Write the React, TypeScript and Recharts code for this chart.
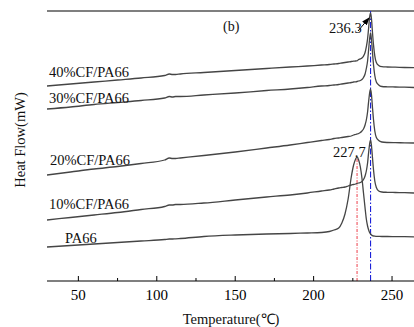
import React from "react";
import { LineChart, Line, XAxis, YAxis, ReferenceLine } from "recharts";

// temperature grid (°C), denser round the melting peaks
const temps = [
  30, 45, 60, 75, 90, 105, 108, 110, 112, 115, 130, 150, 170, 185, 196, 205,
  210, 213, 216, 218, 220, 222, 224, 225.5, 226.8, 227.7, 228.7, 229.8, 230.8,
  231.8, 232.8, 233.6, 234.4, 235.1, 235.7, 236.3, 236.9, 237.5, 238.2, 239,
  240, 241.5, 243.5, 247, 252, 258, 264,
];

// heat flow, arbitrary offset units (curves are stacked)
const pa66 = [
  34, 35.5, 37, 38.5, 40, 41.5, 42, 42, 42.2, 42.5, 44.5, 46, 47, 47.5, 48,
  48.5, 49.5, 51, 53, 58, 67, 82, 104, 116, 122, 124, 121, 114, 103, 88, 73,
  62, 55, 51, 48.5, 47, 46, 45.3, 45, 44.8, 44.7, 44.6, 44.5, 44.5, 44.4, 44.3,
  44.2,
];
const cf10 = [
  61, 63.5, 66, 68.5, 71.5, 74.5, 76, 76, 76.5, 76.5, 78, 81, 84, 86, 88, 90,
  91, 92, 93, 93.5, 94, 95, 96, 96.5, 97, 97.5, 98, 98.5, 99.5, 101.5, 105, 110,
  118, 129, 137, 141, 135, 124, 111, 100, 93.5, 90, 89, 88.7, 88.5, 88.3, 88,
];
const cf20 = [
  106, 109, 112, 114.5, 117.5, 121, 123, 122.5, 122.5, 123, 125.5, 129, 133, 136,
  138.5, 140.5, 141.5, 142.5, 143, 143.5, 144, 144.5, 145, 146, 146.5, 147,
  147.5, 148.5, 150, 152, 156, 161, 169, 180, 188, 192, 186, 174, 161, 150,
  143.5, 140.5, 139, 138.5, 138.3, 138.2, 138,
];
const cf30 = [
  172, 174, 176.5, 178.5, 180.5, 183, 184.5, 184, 184.5, 184.5, 186, 188, 190.5,
  192, 193.5, 195, 195.5, 196, 196.5, 197, 197.5, 198, 198.5, 199, 199.2, 199.5,
  200, 200.5, 201.5, 203.5, 207, 212.5, 220, 232, 242, 248, 241, 229, 216,
  205.5, 199, 196, 194.5, 194.2, 194, 193.8, 193.5,
];
const cf40 = [
  195, 197, 199, 201, 203, 205.5, 207, 206.5, 206.5, 207, 208.5, 210.5, 212.5,
  214, 215, 216, 216.5, 217, 217.5, 218, 218.5, 219, 219.5, 219.8, 220, 220.2,
  221.5, 222.1, 223, 224.9, 228.5, 234.1, 242.2, 253.5, 263.9, 268, 261.9, 249,
  235.9, 225.2, 218.5, 215.5, 214.3, 214, 213.8, 213.5, 213.3,
];

const xTicks = [50, 75, 100, 125, 150, 175, 200, 225, 250];
const majorTicks = [50, 100, 150, 200, 250];
const peakPA66 = 227.7;
const peakCF = 236.3;
const peakPA66Height = 124;

const rows = temps.map((t, i) => ({
  t,
  pa66: pa66[i],
  cf10: cf10[i],
  cf20: cf20[i],
  cf30: cf30[i],
  cf40: cf40[i],
}));

const serif = "'Liberation Serif', 'Times New Roman', serif";
const lineColor = "#454545";

const XTick = ({ x, y, payload }: any) => {
  const major = majorTicks.includes(payload.value);
  return (
    <g>
      <line x1={x} x2={x} y1={y} y2={y - (major ? 5 : 3)} stroke="#000" />
      {major && (
        <text
          x={x}
          y={y + 19}
          textAnchor="middle"
          fontSize={15}
          fontFamily={serif}
          fill="#000"
        >
          {payload.value}
        </text>
      )}
    </g>
  );
};

const seriesKeys = ["pa66", "cf10", "cf20", "cf30", "cf40"];

export default function App() {
  return (
    <div
      style={{
        position: "absolute",
        left: 0,
        top: 0,
        width: 414,
        height: 327,
        overflow: "hidden",
        background: "#fff",
      }}
    >
      <LineChart
        width={414}
        height={327}
        data={rows}
        margin={{ top: 11, right: 0, left: 47, bottom: 0 }}
      >
        <XAxis
          dataKey="t"
          type="number"
          domain={[30, 264]}
          ticks={xTicks}
          allowDataOverflow
          height={46}
          tickSize={0}
          tickMargin={0}
          tickLine={false}
          axisLine={{ stroke: "#000", strokeWidth: 1.2 }}
          tick={<XTick />}
        />
        <YAxis
          type="number"
          domain={[0, 270]}
          width={0}
          tick={false}
          tickLine={false}
          allowDataOverflow
          axisLine={{ stroke: "#000", strokeWidth: 1.2 }}
        />
        <ReferenceLine y={270} stroke="#000" strokeWidth={1.2} />
        <ReferenceLine
          segment={[
            { x: peakPA66, y: 0 },
            { x: peakPA66, y: peakPA66Height },
          ]}
          stroke="#f26b74"
          strokeWidth={1.3}
          strokeDasharray="3 1.5 1 1.5"
        />
        <ReferenceLine
          x={peakCF}
          stroke="#1c22d8"
          strokeWidth={1.1}
          strokeDasharray="6 2 1.5 2"
        />
        {seriesKeys.map((k) => (
          <Line
            key={k}
            dataKey={k}
            type="monotone"
            stroke={lineColor}
            strokeWidth={1.3}
            dot={false}
            isAnimationActive={false}
          />
        ))}
      </LineChart>
      <svg
        width={414}
        height={327}
        style={{ position: "absolute", left: 0, top: 0, pointerEvents: "none" }}
        fontFamily={serif}
        fontSize={14.5}
        fill="#111"
      >
        <defs>
          <marker
            id="arrowHead"
            markerWidth="8"
            markerHeight="6"
            refX="7"
            refY="3"
            orient="auto"
            markerUnits="userSpaceOnUse"
          >
            <path d="M0,0 L8,3 L0,6 Z" fill="#000" />
          </marker>
        </defs>
        <text x={49} y={77}>40%CF/PA66</text>
        <text x={49} y={103}>30%CF/PA66</text>
        <text x={50} y={165}>20%CF/PA66</text>
        <text x={49} y={209}>10%CF/PA66</text>
        <text x={65} y={243}>PA66</text>
        <text x={223} y={31} fontSize={14}>
          (b)
        </text>
        <text x={329} y={33}>236.3</text>
        <text x={333} y={157}>227.7</text>
        <line
          x1={358}
          y1={31}
          x2={369}
          y2={18}
          stroke="#000"
          strokeWidth={1}
          markerEnd="url(#arrowHead)"
        />
        <text
          x={25}
          y={140}
          textAnchor="middle"
          fontSize={14.5}
          transform="rotate(-90 25 140)"
        >
          Heat Flow(mW)
        </text>
        <text x={231} y={324} textAnchor="middle" fontSize={14.5}>
          Temperature(℃)
        </text>
      </svg>
    </div>
  );
}
